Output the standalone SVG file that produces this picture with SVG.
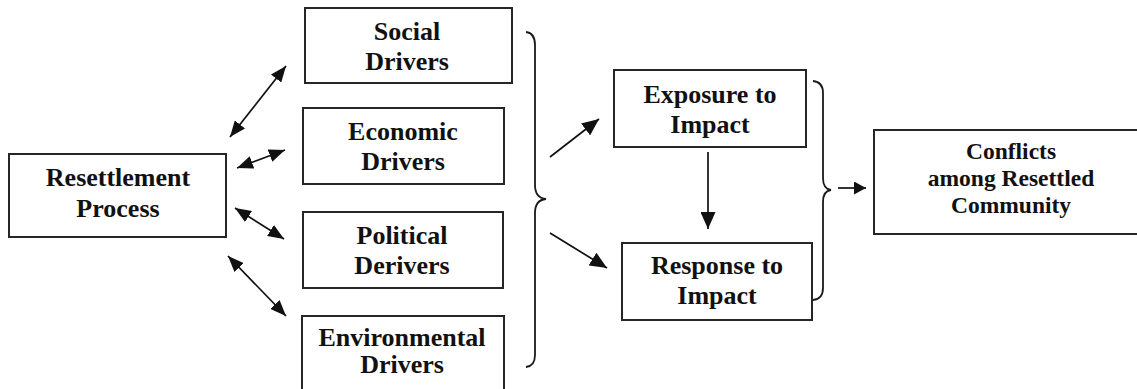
<svg xmlns="http://www.w3.org/2000/svg" width="1137" height="389" viewBox="0 0 1137 389">
  <style>
    .box { fill: #ffffff; stroke: #262626; stroke-width: 2; }
    .lbl { font-family: "Liberation Serif", "Times New Roman", serif; font-weight: bold; font-size: 26px; fill: #111111; text-anchor: middle; }
    .lbl-s { font-size: 23.5px; }
    .edge { stroke: #111111; stroke-width: 1.7; fill: none; }
    .brace { stroke: #1a1a1a; stroke-width: 1.8; fill: none; }
  </style>
  <defs>
    <marker id="head" viewBox="0 0 16 13" refX="16" refY="6.5" markerWidth="16" markerHeight="13" markerUnits="userSpaceOnUse" orient="auto-start-reverse">
      <path d="M0,0 L16,6.5 L0,13 z" fill="#111111"/>
    </marker>
    <marker id="head-lg" viewBox="0 0 17 15" refX="17" refY="7.5" markerWidth="17" markerHeight="15" markerUnits="userSpaceOnUse" orient="auto">
      <path d="M0,0 L17,7.5 L0,15 z" fill="#111111"/>
    </marker>
    <marker id="head-sm" viewBox="0 0 12 13" refX="12" refY="6.5" markerWidth="12" markerHeight="13" markerUnits="userSpaceOnUse" orient="auto">
      <path d="M0,0 L12,6.5 L0,13 z" fill="#111111"/>
    </marker>
  </defs>

  <!-- nodes -->
  <g id="resettlement">
    <rect class="box" x="9" y="154" width="217" height="83"/>
    <text class="lbl" x="118" y="186">Resettlement</text>
    <text class="lbl" x="118" y="217">Process</text>
  </g>
  <g id="social">
    <rect class="box" x="305" y="8" width="207" height="75"/>
    <text class="lbl" x="407" y="40">Social</text>
    <text class="lbl" x="407" y="70">Drivers</text>
  </g>
  <g id="economic">
    <rect class="box" x="303" y="108" width="201" height="76"/>
    <text class="lbl" x="403" y="140">Economic</text>
    <text class="lbl" x="403" y="170">Drivers</text>
  </g>
  <g id="political">
    <rect class="box" x="303" y="212" width="200" height="76"/>
    <text class="lbl" x="402" y="244">Political</text>
    <text class="lbl" x="402" y="274">Derivers</text>
  </g>
  <g id="environmental">
    <rect class="box" x="302" y="316" width="202" height="90"/>
    <text class="lbl" x="402" y="346">Environmental</text>
    <text class="lbl" x="402" y="373">Drivers</text>
  </g>
  <g id="exposure">
    <rect class="box" x="614" y="70" width="192" height="77"/>
    <text class="lbl" x="710" y="103">Exposure to</text>
    <text class="lbl" x="710" y="133">Impact</text>
  </g>
  <g id="response">
    <rect class="box" x="622" y="243" width="190" height="77"/>
    <text class="lbl" x="717" y="274">Response to</text>
    <text class="lbl" x="717" y="304">Impact</text>
  </g>
  <g id="conflicts">
    <rect class="box" x="874" y="130" width="300" height="104"/>
    <text class="lbl lbl-s" x="1011" y="159">Conflicts</text>
    <text class="lbl lbl-s" x="1011" y="186">among Resettled</text>
    <text class="lbl lbl-s" x="1011" y="213">Community</text>
  </g>

  <!-- connectors -->
  <g id="connectors">
    <line class="edge" x1="230" y1="137" x2="286" y2="66" marker-start="url(#head)" marker-end="url(#head)"/>
    <line class="edge" x1="237" y1="168" x2="285" y2="150" marker-start="url(#head)" marker-end="url(#head)"/>
    <line class="edge" x1="235" y1="208" x2="284" y2="239" marker-start="url(#head)" marker-end="url(#head)"/>
    <line class="edge" x1="228" y1="256" x2="286" y2="316" marker-start="url(#head)" marker-end="url(#head)"/>
    <line class="edge" x1="550" y1="157" x2="599" y2="119" marker-end="url(#head-lg)"/>
    <line class="edge" x1="550" y1="233" x2="607" y2="268" marker-end="url(#head-lg)"/>
    <line class="edge" x1="708" y1="152" x2="708" y2="229" marker-end="url(#head-lg)"/>
    <line class="edge" x1="838" y1="188" x2="866" y2="188" stroke-width="4" marker-end="url(#head-sm)"/>
    <path class="brace" d="M526,32 Q535,33 535,45 L535,185 Q535,198 546,199 Q535,200 535,213 L535,355 Q535,366 526,367"/>
    <path class="brace" d="M813,81 Q823,82 823,93 L823,178 Q823,189 831,190 Q823,191 823,202 L823,288 Q823,299 813,300"/>
  </g>
</svg>
